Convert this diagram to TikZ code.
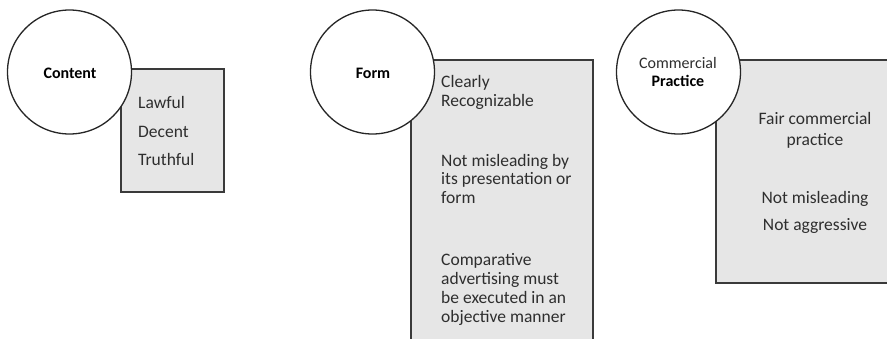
\documentclass[tikz,border=0pt]{standalone}
\usepackage{fontspec}
\setmainfont{Carlito}
\definecolor{boxfill}{HTML}{E6E6E6}
\definecolor{edge}{HTML}{3A3A3A}
\definecolor{txt}{HTML}{2E2E2E}
\begin{document}
\begin{tikzpicture}[x=1pt,y=-1pt,
  panel/.style={rectangle, draw=edge, line width=1.3pt, fill=boxfill, inner sep=0pt},
  topic/.style={circle, draw=black!85, line width=1.3pt, fill=white, minimum size=124pt, inner sep=0pt},
  body/.style={font=\fontsize{17.5}{18.5}\selectfont, text=txt, anchor=base west, inner sep=0pt},
  bodyc/.style={body, anchor=base},
  label/.style={font=\fontsize{16}{17}\selectfont\bfseries, text=black, anchor=base, inner sep=0pt},
  labelr/.style={font=\fontsize{16}{17}\selectfont, text=txt, anchor=base, inner sep=0pt}]
\useasboundingbox (0,0) rectangle (887,338);
\clip (0,0) rectangle (887,338);
% boxes
\node[panel, minimum width=103pt, minimum height=123pt] (contentbox) at (172.5,130.5) {};
\node[panel, minimum width=182pt, minimum height=285pt] (formbox) at (502,202.5) {};
\node[panel, minimum width=179pt, minimum height=223pt] (cpbox) at (805.5,171.5) {};
% circles
\node[topic] (content) at (69.5,72) {};
\node[topic] (form) at (372.5,72) {};
\node[topic] (cp) at (678.5,72) {};
% circle labels
\node[label] (contentlbl) at (70,78) {Content};
\node[label] (formlbl) at (373,78) {Form};
\node[labelr] (cplbla) at (678,68) {Commercial};
\node[label] (cplblb) at (678,86) {Practice};
% content box text
\node[body] (c1) at (138,108) {Lawful};
\node[body] (c2) at (138,137) {Decent};
\node[body] (c3) at (138,165) {Truthful};
% form box text
\node[body] (f1) at (441,87) {Clearly};
\node[body] (f2) at (441,106) {Recognizable};
\node[body] (f3) at (441,166) {Not misleading by};
\node[body] (f4) at (441,184.5) {its presentation or};
\node[body] (f5) at (441,203) {form};
\node[body] (f6) at (441,265) {Comparative};
\node[body] (f7) at (441,284) {advertising must};
\node[body] (f8) at (441,303) {be executed in an};
\node[body] (f9) at (441,322) {objective manner};
% commercial practice box text
\node[bodyc] (p1) at (815,124) {Fair commercial};
\node[bodyc] (p2) at (815,145) {practice};
\node[bodyc] (p3) at (815,203) {Not misleading};
\node[bodyc] (p4) at (815,230) {Not aggressive};
\end{tikzpicture}
\end{document}
